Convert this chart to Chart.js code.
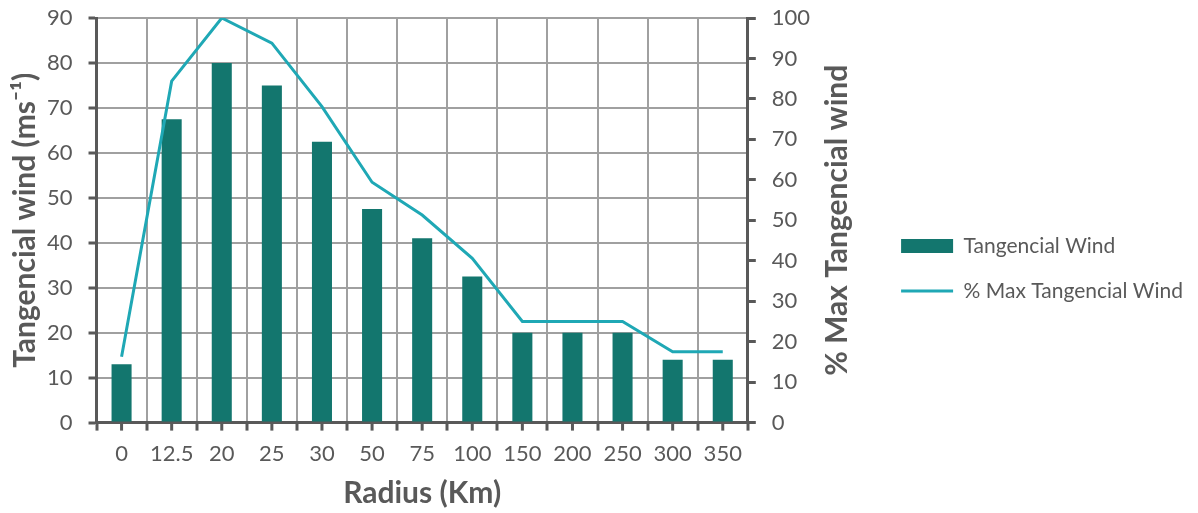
<!DOCTYPE html>
<html>
<head>
<meta charset="utf-8">
<script src="https://cdn.jsdelivr.net/npm/chart.js@4/dist/chart.umd.min.js"></script>
<style>
  html, body { margin: 0; padding: 0; background: #fff; }
  #wrap { width: 1198px; height: 513px; }
</style>
</head>
<body>
<div id="wrap"><canvas id="chart" width="1198" height="513"></canvas></div>
<script>
// radius categories (Km)
const radius = ['0', '12.5', '20', '25', '30', '50', '75', '100', '150', '200', '250', '300', '350'];
// tangencial wind (m/s)
const tangWind = [13, 67.5, 80, 75, 62.5, 47.5, 41, 32.5, 20, 20, 20, 14, 14];
// % of the max tangencial wind
const pctMax = [16.3, 84.4, 100, 93.8, 78.1, 59.4, 51.3, 40.6, 25, 25, 25, 17.5, 17.5];
const leftTicks = [0, 10, 20, 30, 40, 50, 60, 70, 80, 90];
const rightTicks = [0, 10, 20, 30, 40, 50, 60, 70, 80, 90, 100];

const dark = '#595959';
const gridGray = '#a0a0a0';
const font = 'Lato';
const rightTitle = '% Max Tangencial wind';

// small tick marks under each category centre + right title read bottom-up
const extras = {
    id: 'extras',
    afterLayout(chart) {
        // legend sits a bit lower than centred in the original
        chart.legend.top += 13;
        chart.legend.bottom += 13;
    },
    afterDraw(chart) {
        const x = chart.scales.x;
        const y1 = chart.scales.y1;
        const ctx = chart.ctx;
        ctx.save();
        ctx.strokeStyle = dark;
        ctx.lineWidth = 3;
        radius.forEach((r, i) => {
            const px = x.getPixelForValue(i);
            ctx.beginPath();
            ctx.moveTo(px, x.top);
            ctx.lineTo(px, x.top + 8);
            ctx.stroke();
        });
        const t = y1.options.title;
        const cx = y1.right - t.padding.top - 18;
        const cy = (chart.chartArea.top + chart.chartArea.bottom) / 2;
        ctx.translate(cx, cy);
        ctx.rotate(-Math.PI / 2);
        ctx.fillStyle = dark;
        ctx.font = 'bold 30px ' + font;
        ctx.textAlign = 'center';
        ctx.textBaseline = 'middle';
        ctx.fillText(rightTitle, 0, 0);
        ctx.restore();
    }
};

const fixTop = s => { s.paddingTop = 18; s.paddingBottom = 14; };

new Chart(document.getElementById('chart'), {
    data: {
        labels: radius,
        datasets: [
            {
                type: 'line',
                label: '% Max Tangencial Wind',
                data: pctMax,
                yAxisID: 'y1',
                borderColor: '#1fa8b5',
                backgroundColor: '#1fa8b5',
                borderWidth: 3,
                pointRadius: 0,
                tension: 0,
                pointStyle: 'line',
                order: 0
            },
            {
                type: 'bar',
                label: 'Tangencial Wind',
                data: tangWind,
                yAxisID: 'y',
                backgroundColor: '#13766e',
                borderWidth: 0,
                barPercentage: 0.4,
                categoryPercentage: 1,
                pointStyle: 'rect',
                order: 1
            }
        ]
    },
    options: {
        responsive: false,
        animation: false,
        layout: { padding: { top: 0, right: 5, left: 7, bottom: 2 } },
        plugins: {
            tooltip: { enabled: false },
            legend: {
                position: 'right',
                reverse: true,
                maxWidth: 320,
                labels: {
                    usePointStyle: true,
                    pointStyleWidth: 52,
                    boxHeight: 14,
                    padding: 24,
                    color: dark,
                    font: { family: font, size: 21 }
                }
            }
        },
        scales: {
            x: {
                grid: {
                    offset: true,
                    color: gridGray,
                    lineWidth: 2,
                    tickColor: dark,
                    tickWidth: 3,
                    tickLength: 8
                },
                border: { color: dark, width: 3 },
                ticks: {
                    color: dark,
                    font: { family: font, size: 22 },
                    padding: 10,
                    maxRotation: 0,
                    autoSkip: false
                },
                title: {
                    display: true,
                    text: 'Radius (Km)',
                    color: dark,
                    font: { family: font, size: 30, weight: 'bold' },
                    padding: { top: -2, bottom: 0 }
                }
            },
            y: {
                position: 'left',
                min: 0,
                max: 90,
                afterBuildTicks: s => { s.ticks = leftTicks.map(v => ({ value: v })); },
                afterFit: fixTop,
                grid: {
                    color: gridGray,
                    lineWidth: 2,
                    tickColor: dark,
                    tickWidth: 3,
                    tickLength: 8
                },
                border: { color: dark, width: 3 },
                ticks: { color: dark, font: { family: font, size: 22 }, padding: 16 },
                title: {
                    display: true,
                    text: 'Tangencial wind (ms\u207B\u00B9)',
                    color: dark,
                    font: { family: font, size: 30, weight: 'bold' },
                    padding: { top: 0, bottom: -12 }
                }
            },
            y1: {
                position: 'right',
                min: 0,
                max: 100,
                afterBuildTicks: s => { s.ticks = rightTicks.map(v => ({ value: v })); },
                afterFit: fixTop,
                grid: {
                    drawOnChartArea: false,
                    tickColor: dark,
                    tickWidth: 3,
                    tickLength: 8
                },
                border: { color: dark, width: 3 },
                ticks: { color: dark, font: { family: font, size: 22 }, padding: 16 },
                title: {
                    // space kept here, text drawn by the extras plugin (bottom-up)
                    display: true,
                    text: rightTitle,
                    color: 'rgba(0,0,0,0)',
                    font: { family: font, size: 30, weight: 'bold' },
                    padding: { top: 22, bottom: -7 }
                }
            }
        }
    },
    plugins: [extras]
});
</script>
</body>
</html>
